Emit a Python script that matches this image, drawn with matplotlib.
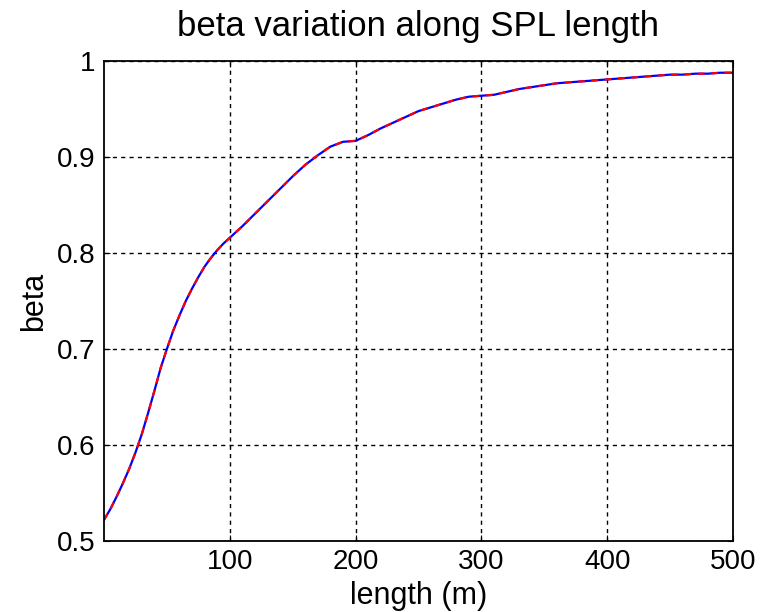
import matplotlib
matplotlib.use("Agg")
import matplotlib.pyplot as plt

length_m = [0, 5, 10, 15, 20, 25, 30, 35, 40, 45, 50, 55, 60, 65, 70, 75, 80, 85, 90, 95, 100,
            110, 120, 130, 140, 150, 160, 170, 180, 190, 200, 210, 220, 230, 240, 250, 260, 270,
            280, 290, 300, 310, 320, 330, 340, 350, 360, 370, 380, 390, 400, 410, 420, 430, 440,
            450, 460, 470, 480, 490, 500]
beta = [0.522, 0.533, 0.546, 0.560, 0.575, 0.592, 0.611, 0.633, 0.656, 0.680, 0.700, 0.719,
        0.735, 0.750, 0.763, 0.775, 0.786, 0.795, 0.803, 0.810, 0.816,
        0.828, 0.841, 0.854, 0.867, 0.880, 0.892, 0.902, 0.911, 0.916, 0.917, 0.923, 0.930,
        0.936, 0.942, 0.948, 0.952, 0.956, 0.960, 0.963, 0.964, 0.965, 0.968, 0.971, 0.973,
        0.975, 0.977, 0.978, 0.979, 0.980, 0.981, 0.982, 0.983, 0.984, 0.985, 0.986, 0.986,
        0.987, 0.987, 0.988, 0.988]
x_ticks = [100, 200, 300, 400, 500]
y_ticks = [0.5, 0.6, 0.7, 0.8, 0.9, 1.0]
y_ticklabels = ["0.5", "0.6", "0.7", "0.8", "0.9", "1"]

plt.rcParams['font.family'] = ['Liberation Sans', 'DejaVu Sans']

fig = plt.figure(figsize=(7.7, 6.12), dpi=100)
ax = fig.add_axes([0.135, 0.116, 0.817, 0.784])

ax.plot(length_m, beta, color='blue', lw=1.6)
ax.plot(length_m, beta, color='red', lw=1.6, ls=(0, (3, 3)))

ax.set_xlim(0, 500)
ax.set_ylim(0.5, 1.0)
ax.set_xticks(x_ticks)
ax.set_yticks(y_ticks)
ax.set_yticklabels(y_ticklabels)
ax.grid(True, color='black', ls=(0, (3, 3)), lw=1)
ax.tick_params(direction='in', top=True, right=True, labelsize=20, length=4, pad=6)
for s in ax.spines.values():
    s.set_linewidth(1.3)

ax.set_title("beta variation along SPL length", fontsize=25, pad=18)
ax.set_xlabel("length (m)", fontsize=22, labelpad=4)
ax.set_ylabel("beta", fontsize=22, labelpad=6)

fig.savefig("out.png", dpi=100)
